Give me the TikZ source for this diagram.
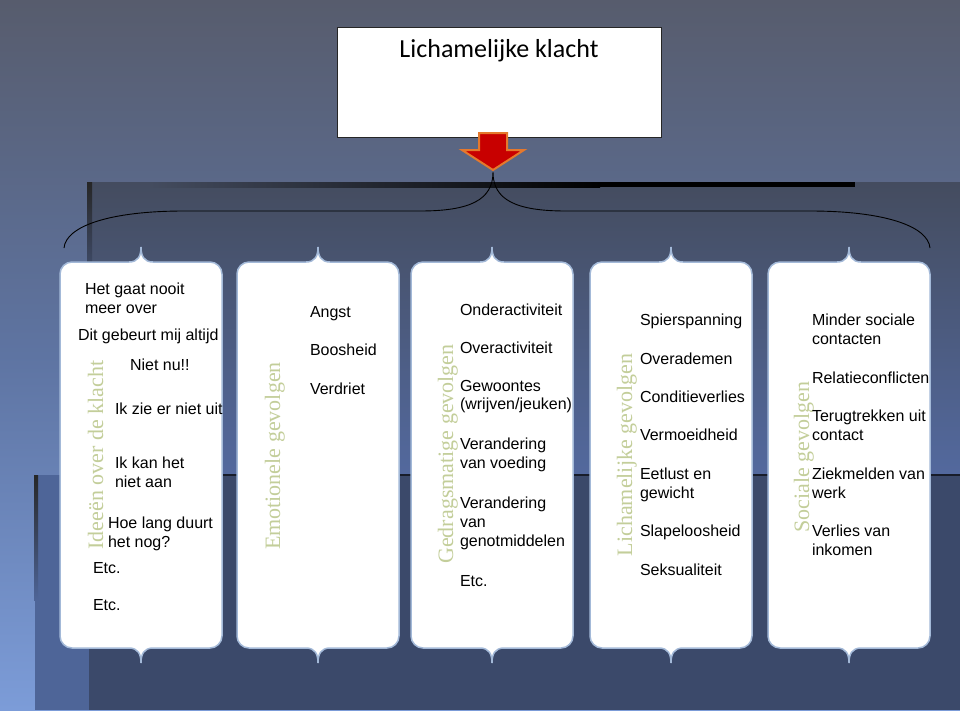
\documentclass[tikz,border=0pt]{standalone}
\usepackage{fontspec}
\setmainfont{Liberation Sans}
\newfontfamily\titlefont{Carlito}
\newfontfamily\labelfont{Liberation Serif}
\definecolor{bgtop}{HTML}{575C6D}
\definecolor{bgmid}{HTML}{5E74A2}
\definecolor{bgbot}{HTML}{7C9CD8}
\definecolor{rectAtop}{HTML}{444C5F}
\definecolor{rectAbot}{HTML}{53699E}
\definecolor{rectB}{HTML}{3B496A}
\definecolor{stripcol}{HTML}{4E6598}
\definecolor{cardedge}{HTML}{A3B9D8}
\definecolor{labelgreen}{HTML}{C3CE9A}
\definecolor{arrowred}{HTML}{C80000}
\definecolor{arroworange}{HTML}{E5782C}
\newcommand\drawcard[2]{%
  \pgfmathsetmacro\cardL{#1}\pgfmathsetmacro\cardR{#2}\pgfmathsetmacro\cardC{(#1+#2)/2}%
  \path[card] (\cardC,247) .. controls (\cardC,256) and (\cardC+3,262) .. (\cardC+12,262)
    -- (\cardR-12,262) .. controls (\cardR-5.4,262) and (\cardR,267.4) .. (\cardR,274)
    -- (\cardR,636) .. controls (\cardR,642.6) and (\cardR-5.4,648) .. (\cardR-12,648)
    -- (\cardC+12,648) .. controls (\cardC+3,648) and (\cardC,654) .. (\cardC,663)
    .. controls (\cardC,654) and (\cardC-3,648) .. (\cardC-12,648)
    -- (\cardL+12,648) .. controls (\cardL+5.4,648) and (\cardL,642.6) .. (\cardL,636)
    -- (\cardL,274) .. controls (\cardL,267.4) and (\cardL+5.4,262) .. (\cardL+12,262)
    -- (\cardC-12,262) .. controls (\cardC-3,262) and (\cardC,256) .. (\cardC,247) -- cycle;}
\begin{document}
\begin{tikzpicture}[x=1pt,y=-1pt,
  card/.style={fill=white, draw=cardedge, line width=1.5pt},
  item/.style={anchor=north west, inner sep=0pt, outer sep=0pt, align=left,
    font=\fontsize{16}{18.8}\selectfont, text=black},
  vlabel/.style={anchor=base, rotate=90, inner sep=0pt,
    font=\labelfont\fontsize{22}{26}\selectfont, text=labelgreen},
  bracestyle/.style={draw=black, line width=0.9pt}]
\useasboundingbox (0,0) rectangle (960,710);
% background
\shade[top color=bgtop, bottom color=bgbot, middle color=bgmid] (0,0) rectangle (960,710);
\shade[top color=rectAtop, bottom color=rectAbot] (89,182) rectangle (960,475);
\fill[rectB] (89,475) rectangle (960,710);
\fill[stripcol] (35,475) rectangle (89,710);
\shade[top color=black!85, bottom color=rectAbot] (87,182) rectangle (92,340);
\shade[top color=black!85, bottom color=stripcol] (34,475) rectangle (38,600);
\shade[left color=rectAtop, right color=black] (150,182) rectangle (600,187);
\fill[black] (599,182) rectangle (855,187);
\draw[color=black!60!rectB, line width=1.5pt] (89,475) -- (960,475);
% title
\node[draw=black!85, line width=1.2pt, fill=white, minimum width=324pt, minimum height=110pt,
  anchor=north west, inner sep=0pt] (titlebox) at (337,27) {};
\node[anchor=base, inner sep=0pt, font=\titlefont\fontsize{26}{31}\selectfont] (title) at (499,57) {Lichamelijke klacht};
% arrow
\fill[arrowred, draw=arroworange, line width=2pt, line join=miter]
  (479,133) -- (507,133) -- (507,150) -- (524,150) -- (493,170) -- (462,150) -- (479,150) -- cycle;
\coordinate (bracetip) at (493,172);
\coordinate (braceL) at (64,248);
\coordinate (braceR) at (930,248);
% brace
\path[bracestyle] (braceL) .. controls (66,226) and (110,211) .. (184,211) -- (420,211)
  .. controls (470,211) and (493,200) .. (bracetip)
  .. controls (493,200) and (516,211) .. (566,211) -- (810,211)
  .. controls (884,211) and (928,226) .. (braceR);
% cards
\drawcard{60}{222}
\drawcard{237}{399}
\drawcard{411}{573}
\drawcard{590}{752}
\drawcard{768}{930}
% card 1
\node[vlabel] (lab1) at (103,455) {Ideeën over de klacht};
\node[item] (c1a) at (85,283) {Het gaat nooit\\meer over};
\node[item] (c1b) at (78,329) {Dit gebeurt mij altijd};
\node[item] (c1c) at (130,359) {Niet nu!!};
\node[item] (c1d) at (115,403) {Ik zie er niet uit};
\node[item] (c1e) at (115,457) {Ik kan het\\niet aan};
\node[item] (c1f) at (108,517) {Hoe lang duurt\\het nog?};
\node[item] (c1g) at (93,562) {Etc.};
\node[item] (c1h) at (93,599) {Etc.};
% card 2
\node[vlabel] (lab2) at (280,456) {Emotionele gevolgen};
\node[item] (c2a) at (310,306) {Angst};
\node[item] (c2b) at (310,344) {Boosheid};
\node[item] (c2c) at (310,383) {Verdriet};
% card 3
\node[vlabel] (lab3) at (453,454) {Gedragsmatige gevolgen};
\node[item] (c3a) at (460,304) {Onderactiviteit};
\node[item] (c3b) at (460,342) {Overactiviteit};
\node[item] (c3c) at (460,380) {Gewoontes\\(wrijven/jeuken)};
\node[item] (c3d) at (460,438) {Verandering\\van voeding};
\node[item] (c3e) at (460,497) {Verandering\\van\\genotmiddelen};
\node[item] (c3f) at (460,575) {Etc.};
% card 4
\node[vlabel] (lab4) at (632,455) {Lichamelijke gevolgen};
\node[item] (c4a) at (640,314) {Spierspanning};
\node[item] (c4b) at (640,353) {Overademen};
\node[item] (c4c) at (640,391) {Conditieverlies};
\node[item] (c4d) at (640,429) {Vermoeidheid};
\node[item] (c4e) at (640,468) {Eetlust en\\gewicht};
\node[item] (c4f) at (640,525) {Slapeloosheid};
\node[item] (c4g) at (640,564) {Seksualiteit};
% card 5
\node[vlabel] (lab5) at (809,457) {Sociale gevolgen};
\node[item] (c5a) at (812,314) {Minder sociale\\contacten};
\node[item] (c5b) at (812,372) {Relatieconflicten};
\node[item] (c5c) at (812,410) {Terugtrekken uit\\contact};
\node[item] (c5d) at (812,468) {Ziekmelden van\\werk};
\node[item] (c5e) at (812,525) {Verlies van\\inkomen};
\end{tikzpicture}
\end{document}
